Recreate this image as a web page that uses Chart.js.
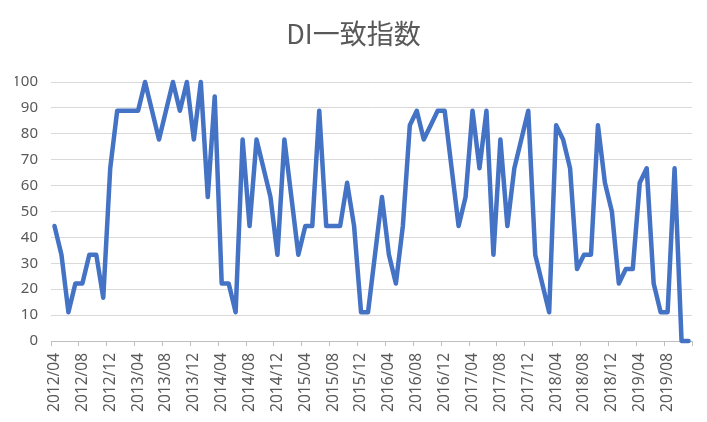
<!DOCTYPE html>
<html>
<head>
<meta charset="utf-8">
<script src="https://cdn.jsdelivr.net/npm/chart.js@4.4.1/dist/chart.umd.min.js"></script>
<style>
html,body{margin:0;padding:0;background:#fff;}
#wrap{width:707px;height:422px;}
</style>
</head>
<body>
<div id="wrap"><canvas id="c" width="707" height="422"></canvas></div>
<script>
const titleText = 'DI一致指数';
const categories = [
'2012/04','2012/05','2012/06','2012/07','2012/08','2012/09','2012/10','2012/11','2012/12',
'2013/01','2013/02','2013/03','2013/04','2013/05','2013/06','2013/07','2013/08','2013/09','2013/10','2013/11','2013/12',
'2014/01','2014/02','2014/03','2014/04','2014/05','2014/06','2014/07','2014/08','2014/09','2014/10','2014/11','2014/12',
'2015/01','2015/02','2015/03','2015/04','2015/05','2015/06','2015/07','2015/08','2015/09','2015/10','2015/11','2015/12',
'2016/01','2016/02','2016/03','2016/04','2016/05','2016/06','2016/07','2016/08','2016/09','2016/10','2016/11','2016/12',
'2017/01','2017/02','2017/03','2017/04','2017/05','2017/06','2017/07','2017/08','2017/09','2017/10','2017/11','2017/12',
'2018/01','2018/02','2018/03','2018/04','2018/05','2018/06','2018/07','2018/08','2018/09','2018/10','2018/11','2018/12',
'2019/01','2019/02','2019/03','2019/04','2019/05','2019/06','2019/07','2019/08','2019/09','2019/10','2019/11'
];
const diValues = [
44.4,33.3,11.1,22.2,22.2,33.3,33.3,16.7,66.7,
88.9,88.9,88.9,88.9,100,88.9,77.8,88.9,100,88.9,100,77.8,
100,55.6,94.4,22.2,22.2,11.1,77.8,44.4,77.8,66.7,55.6,33.3,
77.8,55.6,33.3,44.4,44.4,88.9,44.4,44.4,44.4,61.1,44.4,11.1,
11.1,33.3,55.6,33.3,22.2,44.4,83.3,88.9,77.8,83.3,88.9,88.9,
66.7,44.4,55.6,88.9,66.7,88.9,33.3,77.8,44.4,66.7,77.8,88.9,
33.3,22.2,11.1,83.3,77.8,66.7,27.8,33.3,33.3,83.3,61.1,50,
22.2,27.8,27.8,61.1,66.7,22.2,11.1,11.1,66.7,0,0
];
const yTicks = [0,10,20,30,40,50,60,70,80,90,100];
const labelEvery = 4;

const gray = '#595959';
new Chart(document.getElementById('c'), {
  type: 'line',
  data: {
    labels: categories,
    datasets: [{
      label: titleText,
      data: diValues,
      borderColor: '#4472C4',
      backgroundColor: '#4472C4',
      borderWidth: 4.5,
      borderJoinStyle: 'round',
      borderCapStyle: 'round',
      pointRadius: 0,
      tension: 0,
      clip: false
    }]
  },
  options: {
    responsive: false,
    animation: false,
    devicePixelRatio: 1,
    layout: { padding: { left: 15, right: 15, top: 0, bottom: 0 } },
    plugins: {
      legend: { display: false },
      tooltip: { enabled: false },
      title: {
        display: true,
        text: titleText,
        color: gray,
        font: { family: "'Noto Sans CJK JP','Noto Sans'", size: 27, weight: 'normal', lineHeight: 1.2 },
        padding: { top: 18, bottom: 31.6 }
      }
    },
    scales: {
      x: {
        offset: true,
        grid: {
          offset: true,
          drawOnChartArea: false,
          drawTicks: true,
          tickLength: 5,
          color: (ctx) => (ctx.index === undefined || ctx.index % labelEvery === 0) ? '#bfbfbf' : 'rgba(0,0,0,0)',
          lineWidth: 1
        },
        border: { display: true, color: '#bfbfbf', width: 1 },
        ticks: {
          autoSkip: false,
          minRotation: 90,
          maxRotation: 90,
          padding: 7,
          color: gray,
          font: { family: "'Noto Sans'", size: 15.5 },
          callback: function(val, idx) { return idx % labelEvery === 0 ? categories[idx] : ''; }
        },
        afterFit: (s) => { s.height = 81; s.paddingLeft = 0; s.paddingRight = 0; }
      },
      y: {
        min: yTicks[0],
        max: yTicks[yTicks.length - 1],
        afterBuildTicks: (s) => { s.ticks = yTicks.map(v => ({ value: v })); },
        grid: { color: '#d9d9d9', lineWidth: 1, drawTicks: false },
        border: { display: false },
        ticks: {
          padding: 13,
          color: gray,
          font: { family: "'Noto Sans'", size: 15 }
        },
        afterFit: (s) => { s.width = 36; s.paddingTop = 0; s.paddingBottom = 0; }
      }
    }
  }
});
</script>
</body>
</html>
